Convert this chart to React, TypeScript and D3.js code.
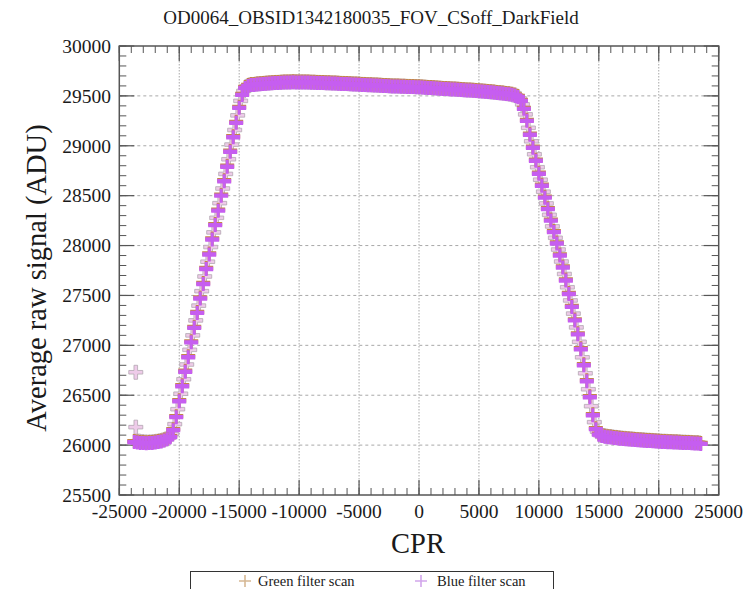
import React from "react";
import * as d3 from "d3";

// ---- data ----
const TITLE = "OD0064_OBSID1342180035_FOV_CSoff_DarkField";
const X_LABEL = "CPR";
const Y_LABEL = "Average raw signal (ADU)";
const X_TICKS = [-25000, -20000, -15000, -10000, -5000, 0, 5000, 10000, 15000, 20000, 25000];
const Y_TICKS = [25500, 26000, 26500, 27000, 27500, 28000, 28500, 29000, 29500, 30000];
const SERIES_NAMES = ["Green filter scan", "Blue filter scan"];

// Blue filter scan: first CPR and scan step
const BLUE_X0 = -23750;
const BLUE_STEP = 250;
const blueValues = [
  26030, 26025, 26022, 26020, 26018, 26020, 26022, 26025, 26030, 26036, 26045, 26058,
  26080, 26150, 26280, 26440, 26590, 26735, 26880, 27030, 27175, 27325, 27470, 27615,
  27765, 27910, 28060, 28205, 28350, 28500, 28645, 28790, 28940, 29085, 29230, 29380,
  29510, 29580, 29600, 29608,
  29610, 29614, 29617, 29620, 29622, 29625, 29627, 29629, 29630, 29632,
  29633, 29634, 29635, 29636, 29635, 29635, 29634, 29634, 29633, 29632,
  29631, 29630, 29629, 29628, 29627, 29626, 29624, 29623, 29622, 29620,
  29619, 29618, 29616, 29615, 29613, 29612, 29610, 29609, 29607, 29606,
  29604, 29603, 29601, 29600, 29598, 29597, 29595, 29594, 29593, 29592,
  29591, 29590, 29589, 29588, 29587, 29586, 29584, 29582, 29580, 29578,
  29576, 29574, 29572, 29570, 29568, 29566, 29565, 29563, 29561, 29559,
  29557, 29555, 29553, 29551, 29549, 29547, 29545, 29542, 29539, 29536,
  29533, 29530, 29527, 29524, 29520, 29516, 29511, 29505,
  29490, 29450, 29370, 29250, 29110, 28980, 28850, 28720, 28600, 28480,
  28365, 28250, 28135, 28020, 27900, 27780, 27650, 27515, 27385, 27250,
  27110, 26960, 26800, 26640, 26480, 26300, 26160, 26105,
  26092, 26085, 26080, 26076, 26072, 26068, 26065, 26062, 26059, 26056,
  26053, 26050, 26048, 26046, 26044, 26042, 26040, 26038, 26036, 26034,
  26032, 26030, 26029, 26028, 26026, 26025, 26024, 26022, 26021, 26020,
  26018, 26017, 26015, 26012,
];

// Green filter scan: interleaved half a step from the blue scan
const GREEN_X0 = -23625;
const GREEN_STEP = 250;
const greenValues = [
  26730,
  26040, 26035, 26032, 26030, 26032, 26034, 26038, 26043, 26050, 26060, 26075,
  26110, 26210, 26360, 26515, 26660, 26808, 26955, 27100, 27250, 27398, 27543,
  27690, 27838, 27985, 28132, 28278, 28425, 28572, 28718, 28865, 29012, 29158,
  29305, 29450, 29550, 29595, 29610,
  29614,
  29618, 29621, 29624, 29626, 29629, 29631, 29633, 29635, 29636, 29638,
  29639, 29640, 29641, 29641, 29641, 29640, 29640, 29639, 29638, 29637,
  29636, 29635, 29634, 29633, 29631, 29630, 29629, 29628, 29626, 29625,
  29624, 29622, 29621, 29619, 29618, 29616, 29615, 29613, 29612, 29610,
  29609, 29607, 29606, 29604, 29603, 29601, 29600, 29599, 29598, 29597,
  29596, 29595, 29594, 29593, 29592, 29590, 29588, 29586, 29584, 29582,
  29580, 29578, 29576, 29574, 29572, 29571, 29569, 29567, 29565, 29563,
  29561, 29559, 29557, 29555, 29553, 29550, 29548, 29545, 29542, 29539,
  29536, 29533, 29530, 29526, 29522, 29517, 29508,
  29500,
  29475, 29415, 29315, 29180, 29045, 28915, 28785, 28660, 28540, 28422,
  28308, 28192, 28078, 27960, 27840, 27715, 27582, 27450, 27318, 27180,
  27035, 26880, 26720, 26560, 26390, 26230, 26135, 26100,
  26096, 26090, 26086, 26082, 26078, 26074, 26071, 26068, 26065, 26062,
  26060, 26057, 26055, 26053, 26051, 26049, 26047, 26045, 26043, 26041,
  26039, 26038, 26036, 26035, 26034, 26032, 26031, 26030, 26028, 26027,
  26025, 26024, 26022,
];
const greenExtraX = [-23625];
const greenExtraY = [26180];

// ---- layout ----
const W = 753;
const H = 589;
const M = { left: 119.3, right: 718.7, top: 46, bottom: 495 };
const FONT = "Liberation Serif";

function crossPoints(a: number, b: number, c: number) {
  const p = [
    [-a, -b], [-c, -b], [-c, -a], [c, -a], [c, -b], [a, -b],
    [a, b], [c, b], [c, a], [-c, a], [-c, b], [-a, b],
  ];
  return "M" + p.map((q) => q.join(",")).join("L") + "Z";
}

export default function App() {
  const x = d3.scaleLinear().domain([-25000, 25000]).range([M.left, M.right]);
  const y = d3.scaleLinear().domain([25500, 30000]).range([M.bottom, M.top]);

  const blue = blueValues.map((v, i) => [BLUE_X0 + i * BLUE_STEP, v]);
  const green = greenValues
    .map((v, i) => [GREEN_X0 + i * GREEN_STEP, v])
    .concat(greenExtraX.map((gx, i) => [gx, greenExtraY[i]]));

  const xMinor = d3.range(-25000, 25001, 1000);
  const yMinor = d3.range(25500, 30001, 100);

  const bluePath = crossPoints(7, 2.2, 1.5);
  const greenPath = crossPoints(7, 1.8, 1.8);
  const axisCol = "#555";
  const gridCol = "#a8a8a8";
  const txt = "#1a1a1a";
  const tf = { fontFamily: FONT };

  return (
    <svg width={W} height={H} style={{ position: "absolute", left: 0, top: 0, background: "#fff" }}>
      <rect x={0} y={0} width={W} height={H} fill="#fff" />
      <text x={371} y={24} textAnchor="middle" style={tf} fontSize={19} fill={txt}>
        {TITLE}
      </text>

      {/* grid */}
      {X_TICKS.slice(1, -1).map((t) => (
        <line key={"gx" + t} x1={x(t)} x2={x(t)} y1={M.top} y2={M.bottom} stroke={gridCol} strokeWidth={1} strokeDasharray="1.5,1.5" />
      ))}
      {Y_TICKS.slice(1, -1).map((t) => (
        <line key={"gy" + t} x1={M.left} x2={M.right} y1={y(t)} y2={y(t)} stroke={gridCol} strokeWidth={1} strokeDasharray="3,3" />
      ))}

      {/* minor ticks */}
      {xMinor.map((t) => (
        <g key={"mx" + t}>
          <line x1={x(t)} x2={x(t)} y1={M.bottom} y2={M.bottom - 7} stroke={axisCol} />
          <line x1={x(t)} x2={x(t)} y1={M.top} y2={M.top + 7} stroke={axisCol} />
        </g>
      ))}
      {yMinor.map((t) => (
        <g key={"my" + t}>
          <line x1={M.left} x2={M.left + 7} y1={y(t)} y2={y(t)} stroke={axisCol} />
          <line x1={M.right} x2={M.right - 7} y1={y(t)} y2={y(t)} stroke={axisCol} />
        </g>
      ))}
      {/* major ticks */}
      {X_TICKS.map((t) => (
        <g key={"Mx" + t}>
          <line x1={x(t)} x2={x(t)} y1={M.bottom} y2={M.bottom - 15} stroke={axisCol} strokeWidth={1.2} />
          <line x1={x(t)} x2={x(t)} y1={M.top} y2={M.top + 15} stroke={axisCol} strokeWidth={1.2} />
          <text x={x(t)} y={518} textAnchor="middle" style={tf} fontSize={19.5} fill={txt}>
            {t}
          </text>
        </g>
      ))}
      {Y_TICKS.map((t) => (
        <g key={"My" + t}>
          <line x1={M.left} x2={M.left + 15} y1={y(t)} y2={y(t)} stroke={axisCol} strokeWidth={1.2} />
          <line x1={M.right} x2={M.right - 15} y1={y(t)} y2={y(t)} stroke={axisCol} strokeWidth={1.2} />
          <text x={111} y={y(t)} dy="0.35em" textAnchor="end" style={tf} fontSize={19.5} fill={txt}>
            {t}
          </text>
        </g>
      ))}

      {/* data: green scan */}
      {green.map((d, i) => (
        <path key={"g" + i} d={greenPath} transform={`translate(${x(d[0])},${y(d[1])})`} fill="#eecbe9" stroke="#b3a7b1" strokeWidth={0.8} />
      ))}
      {/* data: blue scan */}
      {blue.map((d, i) => (
        <path key={"bs" + i} d={bluePath} transform={`translate(${x(d[0])},${y(d[1]) - 1})`} fill="#c4844a" />
      ))}
      {blue.map((d, i) => (
        <path key={"b" + i} d={bluePath} transform={`translate(${x(d[0])},${y(d[1])})`} fill="#c65ef0" />
      ))}

      {/* frame */}
      <rect x={M.left} y={M.top} width={M.right - M.left} height={M.bottom - M.top} fill="none" stroke={axisCol} strokeWidth={1.5} />

      {/* axis labels */}
      <text x={418} y={553} textAnchor="middle" style={tf} fontSize={28.5} fill={txt}>
        {X_LABEL}
      </text>
      <text transform="translate(46,278) rotate(-90)" textAnchor="middle" style={tf} fontSize={28.5} fill={txt}>
        {Y_LABEL}
      </text>

      {/* legend */}
      <rect x={190.5} y={571.5} width={363} height={40} fill="#fff" stroke="#333" strokeWidth={1} />
      <path d="M239,581H251M245,575V587" stroke="#d6b894" strokeWidth={1.6} fill="none" />
      <text x={258} y={586} style={tf} fontSize={14.5} fill={txt}>{SERIES_NAMES[0]}</text>
      <path d="M415,581H427M421,575V587" stroke="#d2a6ec" strokeWidth={1.6} fill="none" />
      <text x={437} y={586} style={tf} fontSize={14.5} fill={txt}>{SERIES_NAMES[1]}</text>
    </svg>
  );
}
